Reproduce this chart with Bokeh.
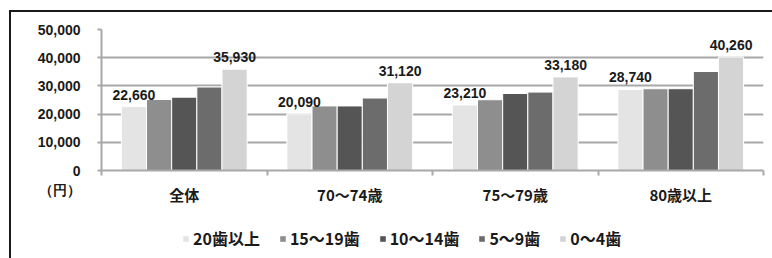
from bokeh.plotting import figure
from bokeh.layouts import column, row
from bokeh.models import (Range1d, FixedTicker, NumeralTickFormatter, Legend, LegendItem,
                          ColumnDataSource, Spacer)
from bokeh.core.properties import value
from bokeh.embed import file_html
from bokeh.resources import INLINE
import numpy as np

# ---- data ----
categories = ["全体", "70～74歳", "75～79歳", "80歳以上"]
series_names = ["20歯以上", "15～19歯", "10～14歯", "5～9歯", "0～4歯"]
teeth_20plus = [22660, 20090, 23210, 28740]
teeth_15_19 = [25200, 22900, 25100, 29000]
teeth_10_14 = [26000, 22900, 27300, 29000]
teeth_5_9 = [29600, 25700, 27800, 35100]
teeth_0_4 = [35930, 31120, 33180, 40260]
y_ticks = [0, 10000, 20000, 30000, 40000, 50000]
unit_label = "（円）"

series_values = [teeth_20plus, teeth_15_19, teeth_10_14, teeth_5_9, teeth_0_4]
colors = ["#e4e4e4", "#8e8e8e", "#555555", "#6c6c6c", "#d4d4d4"]

NUM_FONT = "Liberation Sans"
CJK_FONT = "Noto Sans CJK JP"
TXT = "#1a1a1a"
GRID = "#a8a8a8"

p = figure(width=761, height=198, output_backend="svg", toolbar_location=None,
           x_range=Range1d(0, len(categories)), y_range=Range1d(0, 50000),
           min_border_left=90, min_border_right=9, min_border_top=17, min_border_bottom=40)
p.outline_line_color = None

step = 0.152
idx = np.arange(len(categories)) + 0.5
for j, (name, vals, col) in enumerate(zip(series_names, series_values, colors)):
    xs = idx + (j - 2) * step
    src = ColumnDataSource(dict(x=xs, top=vals))
    p.vbar(x="x", top="top", width=step, source=src, fill_color=col,
           line_color="white", line_width=1)

# data labels for first and last series
for j in (0, len(series_names) - 1):
    xs = idx + (j - 2) * step
    vals = series_values[j]
    src = ColumnDataSource(dict(x=xs, y=vals, t=[f"{v:,}" for v in vals]))
    p.text(x="x", y="y", text="t", source=src, text_align="center", text_baseline="bottom",
           y_offset=-7, text_font=value(NUM_FONT), text_font_size="14px",
           text_font_style="bold", text_color=TXT)

# axes
p.yaxis.ticker = FixedTicker(ticks=y_ticks)
p.yaxis.formatter = NumeralTickFormatter(format="0,0")
p.yaxis.major_label_overrides = {y_ticks[0]: " \n0\n" + unit_label}
p.yaxis.axis_line_color = GRID
p.yaxis.axis_line_width = 2
p.yaxis.major_tick_line_color = GRID
p.yaxis.major_tick_line_width = 2
p.yaxis.major_tick_out = 4
p.yaxis.major_tick_in = 0
p.yaxis.minor_tick_line_color = None
p.yaxis.major_label_text_font = NUM_FONT
p.yaxis.major_label_text_font_size = "14px"
p.yaxis.major_label_text_font_style = "bold"
p.yaxis.major_label_text_color = TXT
p.yaxis.major_label_standoff = 17

p.xaxis.ticker = FixedTicker(ticks=list(idx), minor_ticks=list(range(len(categories) + 1)))
p.xaxis.major_label_overrides = {float(i): c for i, c in zip(idx, categories)}
p.xaxis.axis_line_color = GRID
p.xaxis.axis_line_width = 2
p.xaxis.major_tick_line_color = None
p.xaxis.major_tick_out = 5
p.xaxis.minor_tick_line_color = GRID
p.xaxis.minor_tick_line_width = 2
p.xaxis.minor_tick_out = 5
p.xaxis.minor_tick_in = 0
p.xaxis.major_label_text_font = CJK_FONT
p.xaxis.major_label_text_font_size = "15px"
p.xaxis.major_label_text_font_style = "bold"
p.xaxis.major_label_text_color = TXT
p.xaxis.major_label_standoff = 8

p.xgrid.grid_line_color = None
p.ygrid.grid_line_color = GRID
p.ygrid.grid_line_width = 2

# legend strip (separate figure so the chart frame keeps its size)
lg = figure(width=761, height=48, output_backend="svg", toolbar_location=None,
            x_axis_location=None, y_axis_location=None, min_border=0,
            x_range=Range1d(0, 1), y_range=Range1d(0, 1))
lg.outline_line_color = None
lg.background_fill_color = "white"
lg.border_fill_color = "white"
for g in lg.grid:
    g.grid_line_color = None
    g.visible = False
items = []
for name, col in zip(series_names, colors):
    r = lg.vbar(x=[0.5], top=[0], bottom=[0], width=0.0, fill_color=col, line_color=None)
    items.append(LegendItem(label=name, renderers=[r]))
legend = Legend(items=items, orientation="horizontal", location=(81, 8),
                glyph_width=7, glyph_height=7, label_standoff=4, spacing=19,
                label_text_font=CJK_FONT, label_text_font_size="16px",
                label_text_font_style="bold", label_text_color=TXT,
                border_line_color=None, background_fill_alpha=0, margin=0, padding=0)
lg.add_layout(legend, "center")

boxed = column(p, lg, styles={"border-top": "2px solid #1a1a1a",
                              "border-left": "2px solid #1a1a1a"})
layout = row(Spacer(width=9), column(Spacer(height=10), boxed))

open("out.html", "w").write(file_html(layout, INLINE))
